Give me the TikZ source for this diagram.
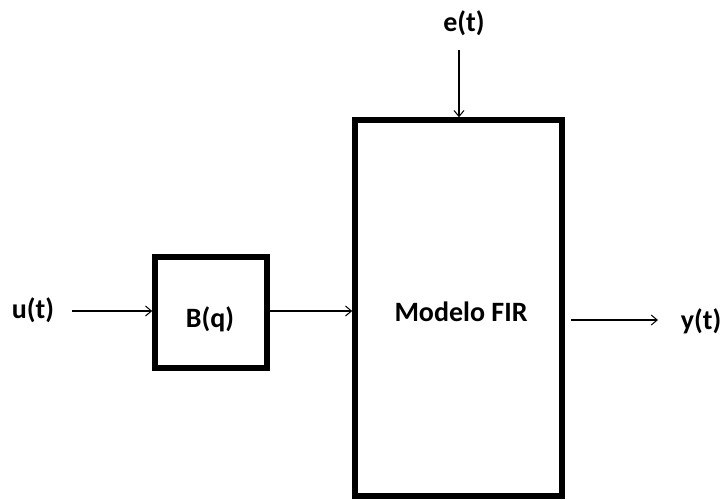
\documentclass[tikz,border=0pt]{standalone}
\usepackage{fontspec}
\setmainfont{Carlito}
\usetikzlibrary{arrows.meta}
\begin{document}
\begin{tikzpicture}[x=1pt,y=-1pt,
  blk/.style={draw,line width=5.5pt,inner sep=0pt},
  lbl/.style={font=\fontsize{28}{32}\selectfont\bfseries,inner sep=0pt,anchor=base},
  sig/.style={line width=1.4pt,-{Straight Barb[length=6pt,width=10pt,line width=1pt]}}]
\useasboundingbox (0,0) rectangle (721,499);
\node[blk,minimum width=112pt,minimum height=111pt] (B) at (211,312.5) {};
\node[lbl] (Bt) at (210,327) {B(q)};
\node[blk,minimum width=207pt,minimum height=376pt] (F) at (458.5,308) {};
\node[lbl] (Ft) at (461,321) {Modelo FIR};
\node[lbl] (u) at (33,318) {u(t)};
\node[lbl] (e) at (464,31) {e(t)};
\node[lbl] (y) at (701,329) {y(t)};
\coordinate (us) at (72,311);
\coordinate (es) at (459,50);
\coordinate (ys) at (571,320);
\coordinate (ye) at (658,320);
\draw[sig] (us) -- (B.west|-us);
\draw[sig] (B.east|-us) -- (F.west|-us);
\draw[sig] (es) -- (es|-F.north);
\draw[sig] (ys) -- (ye);
\end{tikzpicture}
\end{document}
